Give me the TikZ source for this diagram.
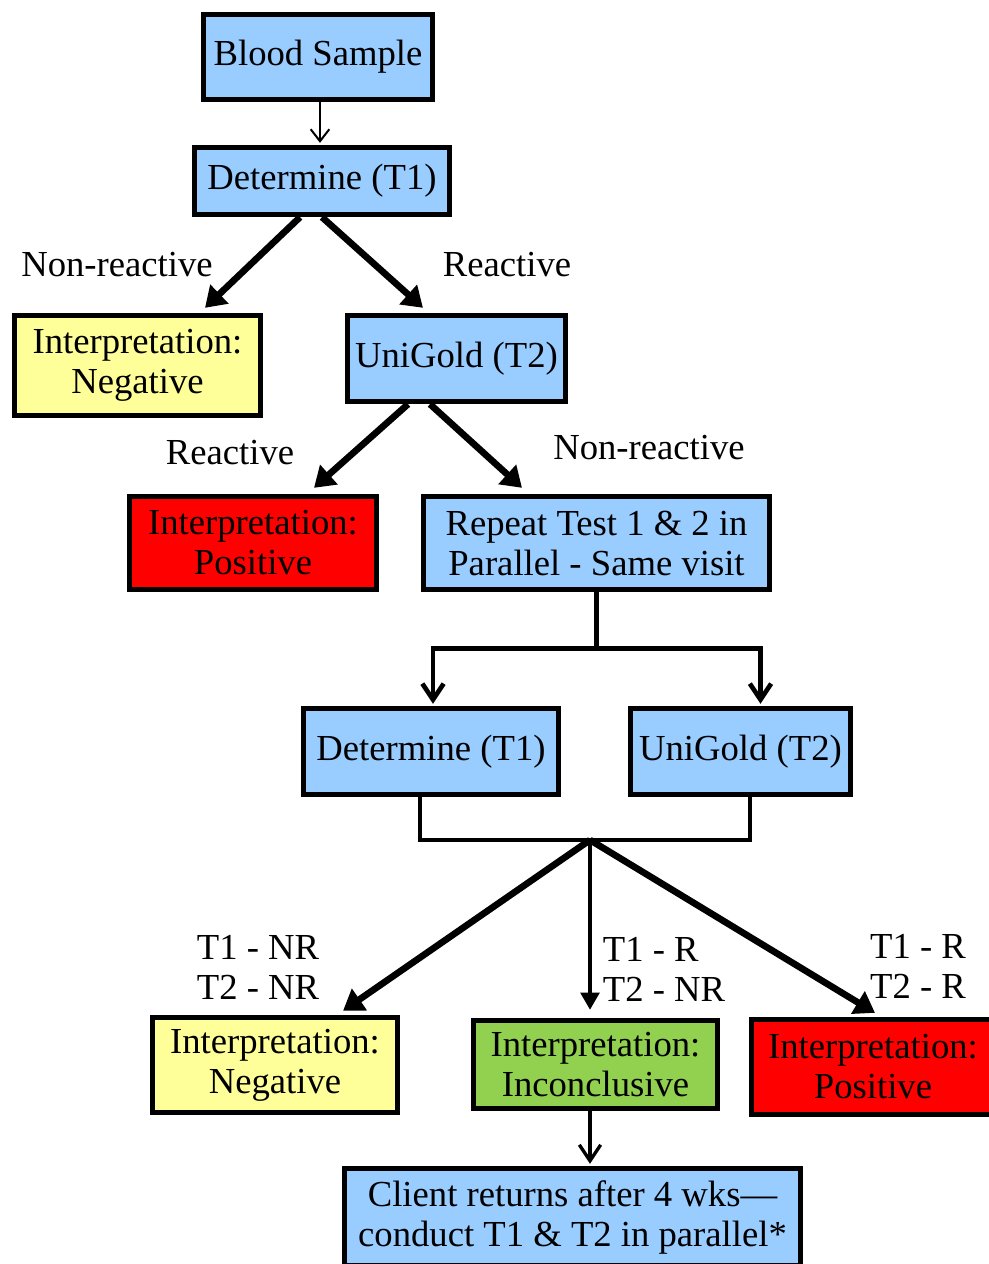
\documentclass[tikz,border=0pt]{standalone}
\usepackage{fontspec}
\setmainfont{Liberation Serif}
\usetikzlibrary{arrows.meta, positioning, calc}
\definecolor{testblue}{HTML}{99CCFF}
\definecolor{resultyellow}{HTML}{FFFF99}
\definecolor{resultred}{HTML}{FF0000}
\definecolor{resultgreen}{HTML}{92D050}
\tikzset{
  flowbox/.style={
    draw=black,
    line width=4pt,
    align=center,
    inner sep=2pt,
    font=\fontsize{27.5}{30}\selectfont
  },
  testbox/.style={flowbox, fill=testblue},
  negbox/.style={flowbox, fill=resultyellow},
  posbox/.style={flowbox, fill=resultred},
  incbox/.style={flowbox, fill=resultgreen},
  branchlabel/.style={font=\fontsize{27.5}{30}\selectfont, inner sep=0pt},
  thinarrow/.style={-{Straight Barb[length=9pt,width=14pt]}, line width=1.5pt},
  splitarrow/.style={-{Straight Barb[length=12pt,width=16pt]}, line width=3pt},
  thickarrow/.style={-{Triangle[length=15pt,width=19pt]}, line width=5pt},
  midarrow/.style={-{Triangle[length=13pt,width=14pt]}, line width=3pt}
}

\begin{document}
\begin{tikzpicture}[x=0.75pt, y=-0.75pt]
  \clip (0,0) rectangle (989,1264);

  % first round
  \node[testbox, minimum width=171.75pt, minimum height=63.75pt] (blood) at (318,57) {Blood Sample};
  \node[testbox, minimum width=191.25pt, minimum height=50.25pt] (det1) at (322,181) {Determine (T1)};
  \node[negbox, minimum width=184.5pt, minimum height=75pt] (neg1) at (137.5,365.5) {Interpretation:\\Negative};
  \node[testbox, minimum width=163.5pt, minimum height=64.5pt] (uni1) at (456.5,358.5) {UniGold (T2)};
  \node[posbox, minimum width=185.25pt, minimum height=69.75pt] (pos1) at (253,543) {Interpretation:\\Positive};
  \node[testbox, minimum width=259.5pt, minimum height=69.75pt] (repeat) at (596.5,543) {Repeat Test 1 \& 2 in\\Parallel - Same visit};

  % parallel round
  \node[testbox, minimum width=191.25pt, minimum height=64.5pt] (det2) at (431,751.5) {Determine (T1)};
  \node[testbox, minimum width=165pt, minimum height=64.5pt] (uni2) at (740.5,751.5) {UniGold (T2)};
  \node[negbox, minimum width=183.75pt, minimum height=71.25pt] (neg2) at (275,1065) {Interpretation:\\Negative};
  \node[incbox, minimum width=183pt, minimum height=66pt] (incon) at (595.5,1064.5) {Interpretation:\\Inconclusive};
  \node[posbox, minimum width=182.25pt, minimum height=71.25pt] (pos2) at (873,1067) {Interpretation:\\Positive};
  \node[testbox, minimum width=342pt, minimum height=72.75pt] (client) at (572.5,1217) {Client returns after 4 wks---\\conduct T1 \& T2 in parallel*};

  % branch labels
  \node[branchlabel] (nonreact1) at (117,265) {Non-reactive};
  \node[branchlabel] (react1) at (507,265) {Reactive};
  \node[branchlabel] (react2) at (230,453) {Reactive};
  \node[branchlabel] (nonreact2) at (649,448) {Non-reactive};
  \node[branchlabel, align=center] (bothnr) at (258,967) {T1 - NR\\T2 - NR};
  \node[branchlabel, align=left] (onlyr) at (664,969) {T1 - R\\T2 - NR};
  \node[branchlabel, align=center] (bothr) at (918,966) {T1 - R\\T2 - R};

  \coordinate (split) at ($(repeat.south)+(0,56)$);
  \coordinate (join) at (590,840);

  \draw[thinarrow] ($(blood.south)+(2,0)$) -- ($(blood.south |- det1.north)+(2,-2)$);
  \draw[thickarrow] ($(det1.south)+(-22,0)$) -- ($(neg1.north)+(67.5,-5)$);
  \draw[thickarrow] (det1.south) -- ($(uni1.north)+(-33.5,-5)$);
  \draw[thickarrow] ($(uni1.south)+(-48.5,0)$) -- ($(pos1.north)+(61,-6)$);
  \draw[thickarrow] ($(uni1.south)+(-26.5,0)$) -- ($(repeat.north)+(-74.5,-6)$);

  \draw[line width=3.5pt] (repeat.south) -- (split);
  \draw[splitarrow, line width=3.5pt] (split) -| ($(det2.north)+(2,-2)$);
  \draw[splitarrow, line width=3.5pt] (split) -| ($(uni2.north)+(20,-2)$);

  \draw[line width=3.5pt] ($(det2.south)+(-11,0)$) |- (join) -| ($(uni2.south)+(9.5,0)$);
  \draw[thickarrow] (join) -- ($(neg2.north)+(68,-4)$);
  \draw[midarrow] (join) -- ($(incon.north)+(-5.5,-8)$);
  \draw[thickarrow] (join) -- ($(pos2.north)+(2,-4)$);

  \draw[splitarrow, line width=2.5pt] ($(incon.south)+(-5.5,0)$) -- ($(incon.south |- client.north)+(-5.5,-2)$);
\end{tikzpicture}
\end{document}
